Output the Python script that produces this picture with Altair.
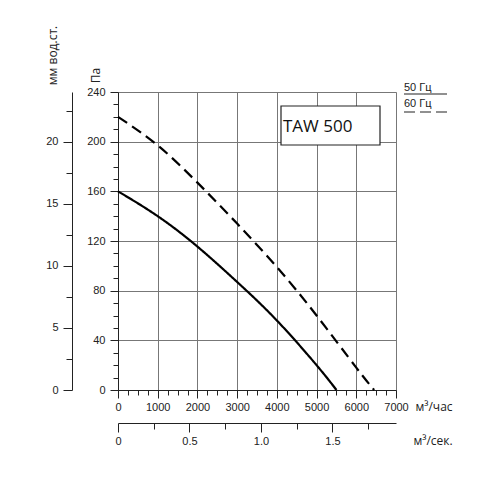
import altair as alt
import pandas as pd

# fan curve TAW 500: pressure (Pa) vs air flow (m3/h)
flow_50 = [0, 1000, 2000, 3000, 4000, 5000, 5500]
pa_50 = [160, 140, 115.5, 87, 56, 20, 0]
flow_60 = [0, 1000, 2000, 3000, 4000, 5000, 6000, 6450]
pa_60 = [220, 197, 167, 134, 99, 60, 18, 0]

flow_ticks = list(range(0, 7001, 250))
pa_ticks = list(range(0, 241, 10))
mm_ticks = [0, 2.5, 5, 7.5, 10, 12.5, 15, 17.5, 20, 22.5]
m3s_ticks = [0, 0.25, 0.5, 0.75, 1.0, 1.25, 1.5, 1.75]

curves = pd.concat([
    pd.DataFrame({"flow": flow_50, "pa": pa_50, "freq": "50 Гц"}),
    pd.DataFrame({"flow": flow_60, "pa": pa_60, "freq": "60 Гц"}),
])

LBL = dict(labelFont="Liberation Sans", labelFontSize=11, labelColor="#222",
           domainColor="#222", tickColor="#222", titleFont="Open Sans",
           titleFontSize=12, titleFontWeight="normal", titleColor="#222")


def cond(test, a, b):
    return {"condition": {"test": test, "value": a}, "value": b}


x_axis = alt.Axis(
    values=flow_ticks, format="d", labelOverlap=False, labelFlush=False,
    labelExpr="datum.value % 1000 === 0 ? datum.label : ''",
    tickSize=cond("datum.value % 1000 === 0", 8, 5),
    gridOpacity=cond("datum.value % 1000 === 0", 1, 0),
    gridColor="#777", labelPadding=3,
    title="м³/час", titleX=297, titleY=20, titleAlign="left",
    titleBaseline="alphabetic", **LBL,
)
y_axis = alt.Axis(
    values=pa_ticks, format="d", labelOverlap=False, labelFlush=False,
    labelExpr="datum.value % 40 === 0 ? datum.label : ''",
    tickSize=cond("datum.value % 40 === 0", 8, 5),
    gridOpacity=cond("datum.value % 40 === 0", 1, 0),
    gridColor="#777", labelPadding=5,
    title="Па", titleX=-23, titleY=-17, titleAngle=-90,
    titleAlign="center", titleBaseline="middle", **LBL,
)

lines = alt.Chart(curves).mark_line(
    color="black", strokeWidth=2.2, interpolate="natural", strokeCap="butt"
).encode(
    x=alt.X("flow:Q", scale=alt.Scale(domain=[0, 7000], nice=False), axis=x_axis),
    y=alt.Y("pa:Q", scale=alt.Scale(domain=[0, 240], nice=False), axis=y_axis),
    strokeDash=alt.StrokeDash("freq:N", legend=None, scale=alt.Scale(
        domain=["50 Гц", "60 Гц"], range=[[1, 0], [11, 6]])),
)

aux = alt.Chart(pd.DataFrame({"m3s": [0], "mm": [0]})).mark_point(opacity=0).encode(
    x=alt.X("m3s:Q", scale=alt.Scale(domain=[0, 7000 / 3600], nice=False),
            axis=alt.Axis(orient="bottom", offset=33, values=m3s_ticks, grid=False,
                          labelOverlap=False, labelFlush=False,
                          labelExpr="datum.value === 0 ? '0' : (datum.value % 0.5 === 0 ? format(datum.value, '.1f') : '')",
                          tickSize=cond("datum.value % 0.5 === 0", 9, 6), labelPadding=3,
                          title="м³/сек.", titleX=295, titleY=21, titleAlign="left",
                          titleBaseline="alphabetic", **LBL)),
    y=alt.Y("mm:Q", scale=alt.Scale(domain=[0, 24], nice=False),
            axis=alt.Axis(orient="left", offset=46, values=mm_ticks, grid=False,
                          labelOverlap=False, labelFlush=False,
                          labelExpr="datum.value % 5 === 0 ? datum.label : ''",
                          tickSize=cond("datum.value % 5 === 0", 9, 6), labelPadding=5,
                          title="мм вод.ст.", titleX=-20, titleY=-37, titleAngle=-90,
                          titleAlign="center", titleBaseline="middle", **LBL)),
)

one = pd.DataFrame({"k": [0]})
box = alt.Chart(one).mark_rect(fill="white", stroke="#222", strokeWidth=1.2).encode(
    x=alt.value(163), x2=alt.value(262), y=alt.value(14), y2=alt.value(53))
box_text = alt.Chart(one).mark_text(
    text="TAW 500", font="Open Sans", fontSize=17, align="left", baseline="alphabetic", color="#111"
).encode(x=alt.value(165), y=alt.value(40))

leg_50 = alt.Chart(one).mark_text(
    text="50 Гц", font="Liberation Sans", fontSize=11, align="left", baseline="alphabetic", color="#222"
).encode(x=alt.value(286), y=alt.value(-1))
leg_60 = alt.Chart(one).mark_text(
    text="60 Гц", font="Liberation Sans", fontSize=11, align="left", baseline="alphabetic", color="#222"
).encode(x=alt.value(286), y=alt.value(15))
rule_50 = alt.Chart(one).mark_rule(color="#222", strokeWidth=1.2).encode(
    x=alt.value(286), x2=alt.value(329), y=alt.value(2))
rule_60 = alt.Chart(one).mark_rule(color="#222", strokeWidth=1.2, strokeDash=[11, 5]).encode(
    x=alt.value(286), x2=alt.value(329), y=alt.value(20))

chart = alt.layer(lines, aux, box, box_text, leg_50, leg_60, rule_50, rule_60).resolve_scale(
    x="independent", y="independent"
).properties(
    width=278, height=298,
    autosize=alt.AutoSizeParams(type="none"),
    padding={"left": 110, "top": 84, "right": 96, "bottom": 102},
).configure_view(stroke=None).configure(background="white")

chart.save("out.html", embed_options={"renderer": "svg", "actions": False})
